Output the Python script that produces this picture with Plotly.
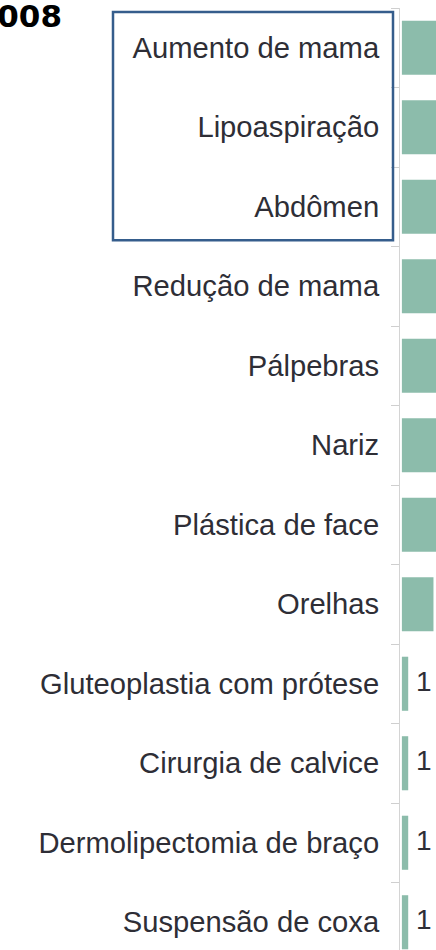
import plotly.graph_objects as go

# Data (top bars are cropped in the reference; only the small ones are fully visible)
categories = [
    "Aumento de mama", "Lipoaspiração", "Abdômen", "Redução de mama",
    "Pálpebras", "Nariz", "Plástica de face", "Orelhas",
    "Gluteoplastia com prótese", "Cirurgia de calvice",
    "Dermolipectomia de braço", "Suspensão de coxa",
]
values = [21, 20, 15, 11, 9, 9, 8, 5, 1, 1, 1, 1]
value_labels = [str(v) for v in values]
highlighted = ["Aumento de mama", "Lipoaspiração", "Abdômen"]
title_text = "2008"

W, H = 436, 950
ML, MT = 400, 8
PW = W - ML
PH = H - MT
BAND = 79.5
X_RANGE = [-0.3, 5.4]

fig = go.Figure()
fig.add_trace(go.Bar(
    x=values, y=categories, orientation="h",
    marker=dict(color="#8cbcab", line=dict(width=0)),
    hoverinfo="skip",
))
# value labels (only those that fit inside the visible strip)
shown = [" " + t if v + 2.5 < X_RANGE[1] else "" for v, t in zip(values, value_labels)]
fig.add_trace(go.Scatter(
    x=values, y=categories, mode="text",
    text=shown,
    textposition="middle right",
    textfont=dict(family="Liberation Sans", size=28, color="#2e2e36"),
    cliponaxis=False, hoverinfo="skip", showlegend=False,
))

# box around highlighted categories (category index positions)
i0 = categories.index(highlighted[0])
i1 = categories.index(highlighted[-1])
fig.add_shape(
    type="rect", xref="paper", yref="y",
    x0=(113 - ML) / PW, x1=(393 - ML) / PW,
    y0=i0 - 0.45, y1=i1 + 0.42,
    line=dict(color="#355d8c", width=2.5), fillcolor="rgba(0,0,0,0)",
    layer="above",
)

fig.update_layout(
    width=W, height=H,
    margin=dict(l=ML, r=0, t=MT, b=0, pad=0),
    plot_bgcolor="white", paper_bgcolor="white",
    showlegend=False, bargap=0.32,
    title=dict(
        text="<b>" + title_text + "</b>",
        x=62 / W, xref="container", xanchor="right",
        y=1 - 5 / H, yref="container", yanchor="top",
        pad=dict(t=0, b=0, l=0, r=0),
        font=dict(family="DejaVu Sans", size=31, color="#000000"),
    ),
    xaxis=dict(visible=False, range=X_RANGE, fixedrange=True),
    yaxis=dict(
        type="category", categoryorder="array", categoryarray=categories,
        range=[-0.5 + PH / BAND, -0.5],
        showline=True, linecolor="#d4d4d4", linewidth=1,
        ticks="outside", ticklen=8, tickcolor="#cfcfcf", tickwidth=1,
        tickson="boundaries", fixedrange=True,
        showgrid=False, zeroline=False, automargin=False,
        tickfont=dict(family="Liberation Sans", size=29.2, color="#2e2e36"),
        ticklabelstandoff=14,
    ),
)
fig.write_html(
    "out.html",
    config={"displayModeBar": False},
    post_script="document.body.style.margin='0';document.body.style.overflow='hidden';",
)
